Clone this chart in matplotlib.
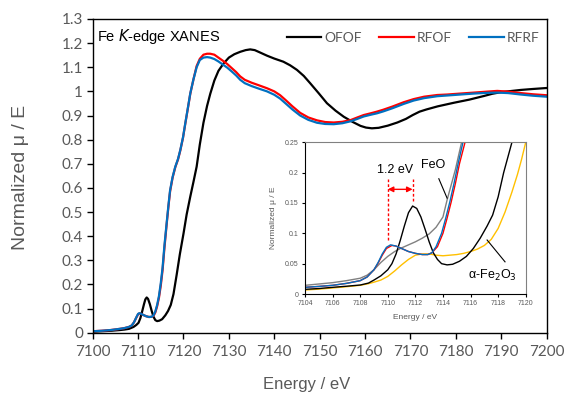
import numpy as np
import matplotlib.pyplot as plt

plt.rcParams['font.family'] = ['Liberation Sans', 'DejaVu Sans']

# main spectra
e_ofof = [7100, 7102, 7104, 7106, 7107, 7108, 7109, 7109.6, 7110.1, 7110.5, 7110.9,
          7111.3, 7111.6, 7111.9, 7112.2, 7112.6, 7113.0, 7113.4, 7113.8, 7114.2, 7114.7,
          7115.3, 7116.0, 7116.6, 7117.2, 7117.8, 7118.5, 7119.2, 7120.0, 7120.7, 7121.5,
          7122.2, 7122.9, 7123.6, 7124.4, 7125.2, 7125.9, 7126.8, 7127.7, 7128.8, 7130.0,
          7131.2, 7132.5, 7133.7, 7134.7, 7135.7, 7137.0, 7138.4, 7140.0, 7142.0, 7143.5,
          7145.0, 7146.5, 7147.9, 7149.8, 7151.6, 7153.5, 7155.3, 7157.2, 7159.0, 7160.2,
          7161.5, 7163.0, 7165.0, 7167.1, 7169.0, 7170.5, 7172.0, 7173.5, 7176.0, 7179.6,
          7183.0, 7186.2, 7188.0, 7190.0, 7194.3, 7197.0, 7200]
v_ofof = [0.004, 0.006, 0.008, 0.011, 0.013, 0.016, 0.024, 0.032, 0.041, 0.060, 0.088,
          0.118, 0.138, 0.146, 0.140, 0.118, 0.090, 0.066, 0.052, 0.048, 0.050,
          0.056, 0.072, 0.090, 0.115, 0.160, 0.240, 0.325, 0.410, 0.490, 0.564,
          0.625, 0.688, 0.780, 0.870, 0.940, 0.990, 1.045, 1.085, 1.115, 1.140,
          1.154, 1.164, 1.171, 1.174, 1.171, 1.160, 1.148, 1.136, 1.123, 1.108,
          1.089, 1.064, 1.034, 0.992, 0.951, 0.920, 0.895, 0.874, 0.857, 0.850,
          0.847, 0.849, 0.858, 0.871, 0.886, 0.902, 0.916, 0.925, 0.938, 0.953,
          0.966, 0.981, 0.990, 0.997, 1.006, 1.010, 1.014]

e_rf = [7100, 7102, 7104, 7106, 7107, 7108, 7108.6, 7109.1, 7109.6, 7110.0, 7110.3,
        7110.7, 7111.2, 7111.8, 7112.4, 7113.0, 7113.4, 7113.8, 7114.2, 7114.6, 7115.0,
        7115.4, 7115.8, 7116.3, 7116.7, 7117.05, 7117.6, 7118.2, 7118.8, 7119.3, 7119.9,
        7120.4, 7121.0, 7121.5, 7122.2, 7122.9, 7123.6, 7124.4, 7125.2, 7125.9, 7126.8,
        7127.7, 7128.6, 7129.6, 7130.6, 7131.6, 7132.5, 7133.5, 7135.0, 7136.5, 7138.4,
        7140.0, 7141.3, 7142.5, 7144.0, 7145.7, 7147.5, 7149.4, 7151.2, 7153.1, 7155.0,
        7156.8, 7158.3, 7159.7, 7161.2, 7162.6, 7164.0, 7166.0, 7168.5, 7170.7, 7173.0,
        7175.9, 7178.1, 7181.0, 7184.0, 7186.9, 7189.1, 7191.5, 7194.3, 7197.0, 7200]
v_rfof = [0.006, 0.008, 0.011, 0.016, 0.019, 0.024, 0.030, 0.043, 0.062, 0.076, 0.080,
          0.078, 0.073, 0.068, 0.065, 0.066, 0.070, 0.084, 0.110, 0.145, 0.195,
          0.260, 0.350, 0.450, 0.525, 0.585, 0.642, 0.686, 0.718, 0.755, 0.808,
          0.866, 0.933, 0.990, 1.050, 1.105, 1.135, 1.152, 1.156, 1.156, 1.152,
          1.140, 1.128, 1.114, 1.097, 1.080, 1.062, 1.048, 1.036, 1.026, 1.013,
          1.000, 0.984, 0.964, 0.938, 0.911, 0.892, 0.880, 0.873, 0.871, 0.874,
          0.881, 0.892, 0.902, 0.909, 0.916, 0.924, 0.937, 0.955, 0.968, 0.978,
          0.985, 0.987, 0.991, 0.995, 0.999, 1.002, 0.999, 0.993, 0.988, 0.984]
v_rfrf = [0.006, 0.008, 0.011, 0.016, 0.019, 0.024, 0.030, 0.043, 0.063, 0.078, 0.081,
          0.078, 0.073, 0.068, 0.065, 0.066, 0.072, 0.088, 0.115, 0.152, 0.205,
          0.270, 0.360, 0.455, 0.530, 0.590, 0.645, 0.688, 0.720, 0.757, 0.810,
          0.868, 0.935, 0.992, 1.050, 1.100, 1.130, 1.140, 1.142, 1.140, 1.134,
          1.124, 1.112, 1.099, 1.083, 1.066, 1.048, 1.034, 1.022, 1.012, 1.000,
          0.986, 0.970, 0.950, 0.925, 0.900, 0.882, 0.870, 0.865, 0.864, 0.868,
          0.876, 0.886, 0.896, 0.903, 0.909, 0.917, 0.930, 0.948, 0.962, 0.972,
          0.980, 0.983, 0.987, 0.991, 0.994, 0.995, 0.993, 0.987, 0.982, 0.978]

# inset (pre-edge region)
ei_rfrf = [7104, 7105, 7106, 7107, 7108, 7108.5, 7109, 7109.3, 7109.6, 7109.9, 7110.2,
           7110.6, 7111, 7111.5, 7112, 7112.5, 7112.9, 7113.2, 7113.5, 7113.9, 7114.2,
           7114.5, 7114.8, 7115.1, 7115.45]
vi_rfrf = [0.011, 0.0125, 0.0143, 0.0175, 0.022, 0.028, 0.040, 0.052, 0.066, 0.077, 0.081,
           0.079, 0.075, 0.070, 0.067, 0.065, 0.065, 0.068, 0.078, 0.100, 0.125,
           0.152, 0.182, 0.215, 0.25]
ei_rfof = [7104, 7105, 7106, 7107, 7108, 7108.5, 7109, 7109.3, 7109.6, 7109.9, 7110.3,
           7110.6, 7111, 7111.5, 7112, 7112.5, 7112.9, 7113.2, 7113.6, 7114.0, 7114.3,
           7114.6, 7114.9, 7115.2, 7115.6]
vi_rfof = [0.011, 0.0125, 0.0143, 0.0175, 0.022, 0.028, 0.040, 0.051, 0.064, 0.075, 0.080,
           0.079, 0.075, 0.070, 0.067, 0.065, 0.065, 0.068, 0.078, 0.100, 0.125,
           0.152, 0.182, 0.215, 0.25]
ei_ofof = [7104, 7105, 7106, 7107, 7108, 7108.6, 7109, 7109.5, 7110, 7110.3, 7110.6,
           7110.9, 7111.2, 7111.5, 7111.8, 7112.1, 7112.4, 7112.7, 7113.0, 7113.3, 7113.6,
           7113.9, 7114.3, 7114.7, 7115.2, 7115.7, 7116.2, 7116.7, 7117.2, 7117.6, 7118.0,
           7118.4, 7118.7, 7119]
vi_ofof = [0.0077, 0.009, 0.011, 0.0128, 0.0148, 0.018, 0.023, 0.030, 0.040, 0.050, 0.066,
           0.088, 0.112, 0.134, 0.145, 0.141, 0.127, 0.107, 0.086, 0.068, 0.057,
           0.050, 0.048, 0.049, 0.054, 0.062, 0.075, 0.092, 0.112, 0.130, 0.160,
           0.200, 0.225, 0.25]
ei_feo = [7104, 7105, 7106, 7107, 7108, 7108.5, 7109, 7109.5, 7110, 7110.5, 7111, 7111.5,
          7112, 7112.5, 7113, 7113.5, 7114, 7114.3, 7114.6, 7114.9, 7115.1, 7115.35]
vi_feo = [0.0143, 0.0165, 0.0187, 0.022, 0.026, 0.031, 0.040, 0.052, 0.062, 0.070, 0.076,
          0.081, 0.086, 0.092, 0.099, 0.110, 0.127, 0.155, 0.180, 0.205, 0.225, 0.25]
ei_hem = [7104, 7105, 7106, 7107, 7108, 7108.6, 7109, 7109.5, 7110, 7110.5, 7111, 7111.5,
          7112, 7112.5, 7113, 7113.5, 7114, 7114.5, 7115, 7115.5, 7116, 7116.5, 7117,
          7117.5, 7118, 7118.5, 7119, 7119.4, 7119.7, 7120]
vi_hem = [0.0066, 0.008, 0.0099, 0.012, 0.0143, 0.017, 0.0195, 0.023, 0.029, 0.038, 0.048,
          0.057, 0.064, 0.066, 0.066, 0.064, 0.063, 0.064, 0.065, 0.067, 0.070, 0.074,
          0.080, 0.090, 0.108, 0.135, 0.168, 0.197, 0.222, 0.25]

grey = '#595959'
blue = '#0070C0'
red = '#FF0000'

fig = plt.figure(figsize=(5.71, 3.94), dpi=100)
ax = fig.add_axes([0.1623, 0.1556, 0.7951, 0.7962])

ax.plot(e_ofof, v_ofof, color='black', lw=1.6, label='OFOF')
ax.plot(e_rf, v_rfof, color=red, lw=1.6, label='RFOF')
ax.plot(e_rf, v_rfrf, color=blue, lw=1.6, label='RFRF')

ax.set_xlim(7100, 7200)
ax.set_ylim(0, 1.3)
ax.set_xticks(np.arange(7100, 7201, 10))
yt = np.round(np.arange(0, 1.31, 0.1), 1)
ax.set_yticks(yt)
ax.set_yticklabels(['%g' % t for t in yt])
ax.tick_params(direction='out', length=4, width=1, labelsize=11, labelcolor=grey)
ax.tick_params(axis='x', pad=5)
ax.tick_params(axis='y', pad=3)
for lab in ax.get_xticklabels() + ax.get_yticklabels():
    lab.set_family('Lato')
for s in ax.spines.values():
    s.set_linewidth(1)

fig.text(21 / 571, 1 - 177 / 394, 'Normalized μ / E', rotation=90, ha='center', va='center',
         fontsize=14, color=grey)
fig.text(307 / 571, 1 - 384 / 394, 'Energy / eV', ha='center', va='center',
         fontsize=12, color=grey)
ax.text(0.009, 0.975, 'Fe $\\it{K}$-edge XANES', transform=ax.transAxes, ha='left', va='top',
        fontsize=10.5)

leg = ax.legend(loc='center right', ncol=3, frameon=False, handlelength=2.5,
                handletextpad=0.25, columnspacing=1.2, borderaxespad=0, borderpad=0,
                labelcolor=grey, bbox_to_anchor=(0.985, 0.94),
                prop={'family': 'Lato', 'size': 10})

# inset
ins = fig.add_axes([0.5342, 0.2538, 0.3865, 0.3850])
ins.plot(ei_feo, vi_feo, color='#808080', lw=1)
ins.plot(ei_hem, vi_hem, color='#FFC000', lw=1)
ins.plot(ei_ofof, vi_ofof, color='black', lw=1)
ins.plot(ei_rfof, vi_rfof, color=red, lw=1)
ins.plot(ei_rfrf, vi_rfrf, color=blue, lw=1)
ins.set_xlim(7104, 7120)
ins.set_ylim(0, 0.25)
ins.set_xticks(np.arange(7104, 7121, 2))
it = [0, 0.05, 0.1, 0.15, 0.2, 0.25]
ins.set_yticks(it)
ins.set_yticklabels(['%g' % t for t in it])
ins.tick_params(direction='out', length=2, width=0.8, labelsize=5, labelcolor=grey, pad=2.5)
ins.spines['top'].set_color('#808080')
ins.spines['right'].set_color('#808080')
ins.set_xlabel('Energy / eV', fontsize=6, color=grey, labelpad=5)
ins.set_ylabel('Normalized μ / E', fontsize=6, color=grey, labelpad=6)

ins.plot([7110, 7110], [0.089, 0.19], color=red, lw=1, ls=(0, (2, 1.5)))
ins.plot([7111.8, 7111.8], [0.154, 0.19], color=red, lw=1, ls=(0, (2, 1.5)))
ins.annotate('', xy=(7110, 0.1725), xytext=(7111.8, 0.1725),
             arrowprops=dict(arrowstyle='<|-|>', color=red, lw=1, mutation_scale=8,
                             shrinkA=0, shrinkB=0))
ins.text(7110.5, 0.205, '1.2 eV', ha='center', va='center', fontsize=9)
ins.text(7113.3, 0.213, 'FeO', ha='center', va='center', fontsize=9)
ins.plot([7113.7, 7114.3], [0.19, 0.158], color='black', lw=0.8)
ins.text(7117.6, 0.031, 'α-Fe$_2$O$_3$', ha='center', va='center', fontsize=9)
ins.plot([7117.2, 7118.5], [0.089, 0.053], color='black', lw=0.8)

fig.savefig('out.png', dpi=100)
